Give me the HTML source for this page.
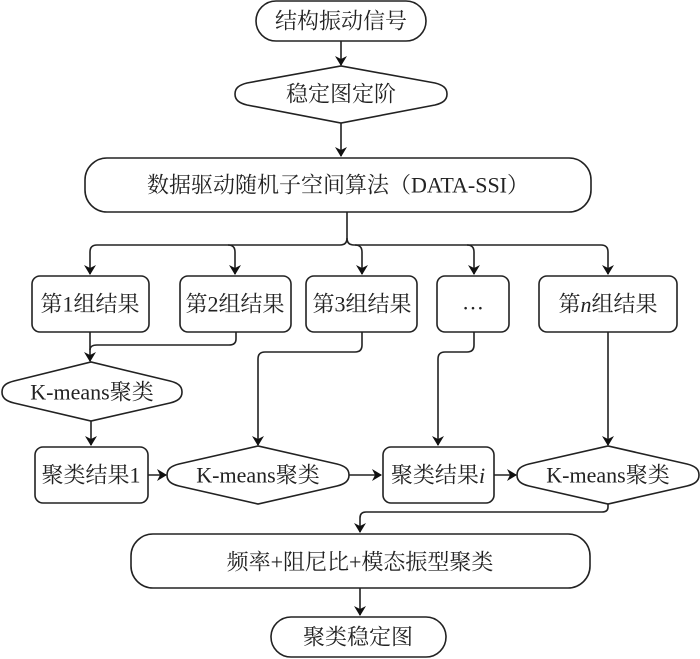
<!DOCTYPE html>
<html><head><meta charset="utf-8"><style>
html,body{margin:0;padding:0;background:#fff;}
svg{display:block;}
text{font-family:"Liberation Serif","Noto Serif CJK SC","Noto Sans CJK SC",serif;font-size:22px;fill:#222;text-anchor:middle;dominant-baseline:central;}
</style></head><body>
<svg width="700" height="659" viewBox="0 0 700 659" xmlns="http://www.w3.org/2000/svg">
<defs>
<marker id="a" markerWidth="10" markerHeight="12" refX="9" refY="6" orient="auto" markerUnits="userSpaceOnUse">
<path d="M0,0 L10,6 L0,12 L3,6 Z" fill="#111"/>
</marker>
</defs>
<g fill="none" stroke="#222" stroke-width="1.6">
<!-- top pill -->
<rect x="256" y="1" width="170" height="40" rx="20"/>
<!-- hex 1 -->
<path d="M235,94 C235,88 239,85 247,83 L341,66 L435,83 C443,85 447,88 447,94 C447,100 443,103 435,105 L341,123 L247,105 C239,103 235,100 235,94 Z"/>
<!-- big box -->
<rect x="85" y="158" width="506" height="54" rx="22"/>
<!-- row boxes -->
<rect x="32" y="276" width="117" height="56" rx="8"/>
<rect x="180" y="276" width="111" height="56" rx="8"/>
<rect x="306" y="276" width="111" height="56" rx="8"/>
<rect x="437" y="276" width="72" height="56" rx="8"/>
<rect x="539" y="276" width="138" height="56" rx="8"/>
<!-- diamond 1 -->
<path d="M2,392 C2,386 6,383 14,381 L91,362 L170,381 C178,383 182,386 182,392 C182,398 178,401 170,403 L91,421 L14,403 C6,401 2,398 2,392 Z"/>
<rect x="35" y="447" width="113" height="56" rx="8"/>
<path d="M167,475 C167,469 171,466 179,464 L258,446 L337,464 C345,466 349,469 349,475 C349,481 345,484 337,486 L258,504 L179,486 C171,484 167,481 167,475 Z"/>
<rect x="383" y="447" width="111" height="56" rx="8"/>
<path d="M517,475 C517,469 521,466 529,464 L608,446 L687,464 C695,466 699,469 699,475 C699,481 695,484 687,486 L608,504 L529,486 C521,484 517,481 517,475 Z"/>
<!-- bottom box -->
<rect x="131" y="534" width="459" height="54" rx="22"/>
<rect x="271" y="617" width="175" height="40" rx="20"/>
<!-- connectors -->
<path d="M341,41 V65" marker-end="url(#a)"/>
<path d="M341,123 V156" marker-end="url(#a)"/>
<path d="M347,212 V238 Q347,245 340,245 H97 Q90,245 90,252 V274" marker-end="url(#a)"/>
<path d="M347,238 Q347,245 354,245 H601 Q608,245 608,252 V274" marker-end="url(#a)"/>
<path d="M228,245 Q235,245 235,252 V274" marker-end="url(#a)"/>
<path d="M355,245 Q362,245 362,252 V274" marker-end="url(#a)"/>
<path d="M467,245 Q474,245 474,252 V274" marker-end="url(#a)"/>
<path d="M90,332 V361" marker-end="url(#a)"/>
<path d="M236,332 V339 Q236,345 229,345 H97 Q90,345 90,350"/>
<path d="M362,332 V345 Q362,352 355,352 H265 Q258,352 258,359 V445" marker-end="url(#a)"/>
<path d="M474,332 V345 Q474,352 467,352 H445 Q438,352 438,359 V445" marker-end="url(#a)"/>
<path d="M608,332 V445" marker-end="url(#a)"/>
<path d="M91,421 V445" marker-end="url(#a)"/>
<path d="M148,475 H166" marker-end="url(#a)"/>
<path d="M349,475 H381" marker-end="url(#a)"/>
<path d="M494,475 H516" marker-end="url(#a)"/>
<path d="M608,504 V507 Q608,512 602,512 H366 Q360,512 360,518 V532" marker-end="url(#a)"/>
<path d="M360,588 V615" marker-end="url(#a)"/>
</g>
<text x="341" y="21">结构振动信号</text>
<text x="341" y="94">稳定图定阶</text>
<text x="338" y="185">数据驱动随机子空间算法（DATA-SSI）</text>
<text x="90" y="304">第1组结果</text>
<text x="235" y="304">第2组结果</text>
<text x="362" y="304">第3组结果</text>
<text x="473" y="302">…</text>
<text x="608" y="304">第<tspan font-style="italic">n</tspan>组结果</text>
<text x="92" y="392">K-means聚类</text>
<text x="91" y="475">聚类结果1</text>
<text x="258" y="475">K-means聚类</text>
<text x="438" y="475">聚类结果<tspan font-style="italic">i</tspan></text>
<text x="608" y="475">K-means聚类</text>
<text x="360" y="562">频率+阻尼比+模态振型聚类</text>
<text x="358" y="637">聚类稳定图</text>
</svg>
</body></html>
